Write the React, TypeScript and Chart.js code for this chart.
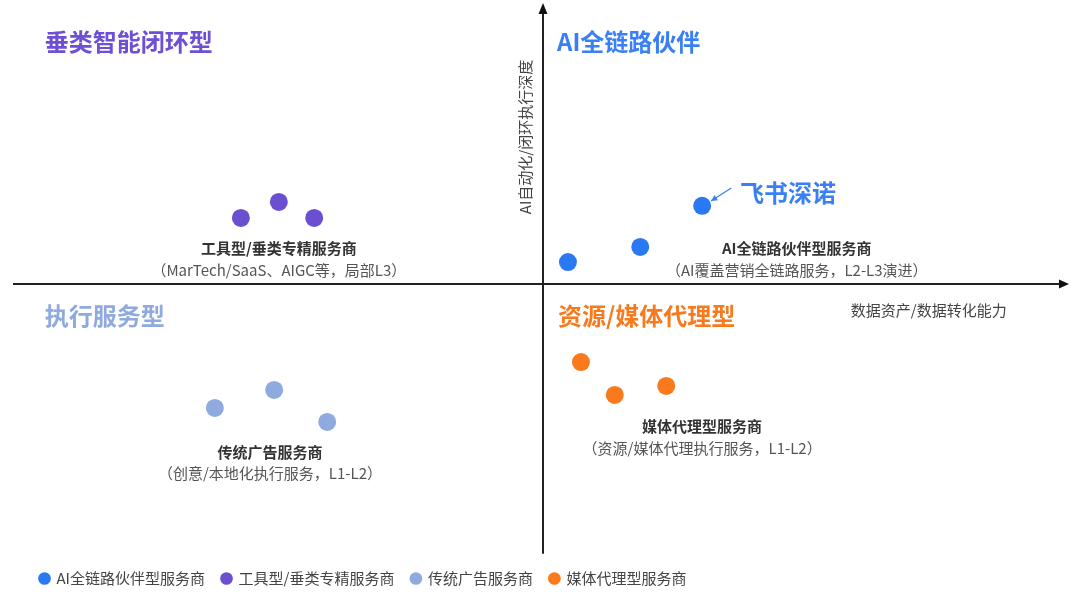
import React, { useEffect, useRef } from "react";
import { Chart, registerables } from "chart.js";

Chart.register(...registerables);

const FONT = '"Noto Sans CJK SC", "Noto Sans", sans-serif';

// Series names (legend)
const seriesNames = ["AI全链路伙伴型服务商", "工具型/垂类专精服务商", "传统广告服务商", "媒体代理型服务商"];

// Series values (x = 数据资产/数据转化能力, y = AI自动化/闭环执行深度)
const aiPartnerX = [4.8, 18.7, 30.6];
const aiPartnerY = [7.8, 13.2, 27.8];
const toolX = [-58.1, -50.8, -44.0];
const toolY = [23.5, 29.2, 23.5];
const traditionalX = [-63.1, -51.7, -41.5];
const traditionalY = [-44.1, -37.7, -49.1];
const mediaX = [7.3, 13.8, 23.7];
const mediaY = [-27.8, -39.5, -36.3];

const seriesColors = ["#2b78f3", "#6a4fd0", "#8eaadf", "#f97a1c"];

// Axis titles
const xAxisTitle = "数据资产/数据转化能力";
const yAxisTitle = "AI自动化/闭环执行深度";

// Quadrant titles
const quadrantTitles = ["垂类智能闭环型", "AI全链路伙伴", "执行服务型", "资源/媒体代理型"];
const quadrantTitleColors = ["#6d50d4", "#3a80f4", "#8eaadf", "#f97a1c"];

// Group labels
const groupNames = ["AI全链路伙伴型服务商", "工具型/垂类专精服务商", "传统广告服务商", "媒体代理型服务商"];
const groupNotes = [
  "（AI覆盖营销全链路服务，L2-L3演进）",
  "（MarTech/SaaS、AIGC等，局部L3）",
  "（创意/本地化执行服务，L1-L2）",
  "（资源/媒体代理执行服务，L1-L2）",
];
const highlightName = "飞书深诺";

function zip(xs: number[], ys: number[]) {
  return xs.map((x, i) => ({ x, y: ys[i] }));
}

const quadrantPlugin = {
  id: "quadrantDecor",
  beforeDatasetsDraw(chart: any) {
    const { ctx, chartArea, scales } = chart;
    const xs = scales.x;
    const ys = scales.y;
    const x0 = xs.getPixelForValue(0);
    const y0 = ys.getPixelForValue(0);
    ctx.save();
    ctx.strokeStyle = "#222";
    ctx.fillStyle = "#111";
    ctx.lineWidth = 2;
    // horizontal axis
    const hStart = chartArea.left - 10;
    const hTip = chartArea.right + 6;
    ctx.beginPath();
    ctx.moveTo(hStart, y0);
    ctx.lineTo(hTip - 8, y0);
    ctx.stroke();
    ctx.beginPath();
    ctx.moveTo(hTip, y0);
    ctx.lineTo(hTip - 10, y0 - 4.5);
    ctx.lineTo(hTip - 10, y0 + 4.5);
    ctx.closePath();
    ctx.fill();
    // vertical axis
    const vTip = ys.getPixelForValue(100);
    const vEnd = ys.getPixelForValue(-96);
    ctx.beginPath();
    ctx.moveTo(x0, vEnd);
    ctx.lineTo(x0, vTip + 8);
    ctx.stroke();
    ctx.beginPath();
    ctx.moveTo(x0, vTip);
    ctx.lineTo(x0 - 4.5, vTip + 11);
    ctx.lineTo(x0 + 4.5, vTip + 11);
    ctx.closePath();
    ctx.fill();
    ctx.restore();
  },
  afterDatasetsDraw(chart: any) {
    const { ctx, scales } = chart;
    const px = (v: number) => scales.x.getPixelForValue(v);
    const py = (v: number) => scales.y.getPixelForValue(v);
    ctx.save();
    ctx.textBaseline = "middle";

    // quadrant titles
    ctx.font = `bold 24px ${FONT}`;
    ctx.textAlign = "left";
    const titlePos = [
      [-95.8, 86.3],
      [2.7, 86.3],
      [-95.8, -11.4],
      [2.9, -11.4],
    ];
    quadrantTitles.forEach((t, i) => {
      ctx.fillStyle = quadrantTitleColors[i];
      ctx.fillText(t, px(titlePos[i][0]), py(titlePos[i][1]));
    });

    // group labels
    const groupPos = [
      [48.8, 12.8, 5.0],
      [-50.8, 12.8, 5.0],
      [-52.5, -59.8, -67.3],
      [30.6, -50.5, -58.4],
    ];
    ctx.textAlign = "center";
    groupNames.forEach((n, i) => {
      ctx.font = `bold 15px ${FONT}`;
      ctx.fillStyle = "#333";
      ctx.fillText(n, px(groupPos[i][0]), py(groupPos[i][1]));
      ctx.font = `15px ${FONT}`;
      ctx.fillStyle = "#555";
      ctx.fillText(groupNotes[i], px(groupPos[i][0]), py(groupPos[i][2]));
    });

    // highlight
    ctx.textAlign = "left";
    ctx.font = `bold 24px ${FONT}`;
    ctx.fillStyle = "#3a80f4";
    ctx.fillText(highlightName, px(37.9), py(32.4));
    // arrow
    const ax1 = px(36.2), ay1 = py(34.2), ax2 = px(32.3), ay2 = py(29.5);
    ctx.strokeStyle = "#3a80f4";
    ctx.fillStyle = "#3a80f4";
    ctx.lineWidth = 1.2;
    ctx.beginPath();
    ctx.moveTo(ax1, ay1);
    ctx.lineTo(ax2, ay2);
    ctx.stroke();
    const ang = Math.atan2(ay2 - ay1, ax2 - ax1);
    ctx.beginPath();
    ctx.moveTo(ax2, ay2);
    ctx.lineTo(ax2 - 7 * Math.cos(ang - 0.45), ay2 - 7 * Math.sin(ang - 0.45));
    ctx.lineTo(ax2 - 7 * Math.cos(ang + 0.45), ay2 - 7 * Math.sin(ang + 0.45));
    ctx.closePath();
    ctx.fill();

    // axis titles
    ctx.font = `15px ${FONT}`;
    ctx.fillStyle = "#444";
    ctx.textAlign = "left";
    ctx.fillText(xAxisTitle, px(59.2), py(-9.3));
    ctx.save();
    ctx.translate(px(-3.5), py(52.3));
    ctx.rotate(-Math.PI / 2);
    ctx.textAlign = "center";
    ctx.fillText(yAxisTitle, 0, 0);
    ctx.restore();

    ctx.restore();
  },
};

export default function App() {
  const ref = useRef<HTMLCanvasElement | null>(null);

  useEffect(() => {
    if (!ref.current) return;
    const chart = new Chart(ref.current, {
      type: "scatter",
      data: {
        datasets: [
          { label: seriesNames[0], data: zip(aiPartnerX, aiPartnerY), backgroundColor: seriesColors[0] },
          { label: seriesNames[1], data: zip(toolX, toolY), backgroundColor: seriesColors[1] },
          { label: seriesNames[2], data: zip(traditionalX, traditionalY), backgroundColor: seriesColors[2] },
          { label: seriesNames[3], data: zip(mediaX, mediaY), backgroundColor: seriesColors[3] },
        ].map((d) => ({ ...d, borderWidth: 0, pointRadius: 9, pointHoverRadius: 9, borderColor: d.backgroundColor })),
      },
      options: {
        responsive: false,
        animation: false,
        layout: { autoPadding: false, padding: { left: 23, right: 17, top: 3, bottom: 0 } },
        scales: {
          x: { type: "linear", min: -100, max: 100, display: false },
          y: { type: "linear", min: -96.1, max: 100, display: false },
        },
        plugins: {
          tooltip: { enabled: false },
          legend: {
            position: "bottom",
            align: "start",
            labels: {
              usePointStyle: true,
              pointStyle: "circle",
              boxWidth: 9,
              boxHeight: 9,
              padding: 17,
              color: "#444",
              font: { family: FONT, size: 15 },
            },
          },
        },
      },
      plugins: [quadrantPlugin],
    });
    return () => chart.destroy();
  }, []);

  return (
    <div style={{ position: "fixed", left: 0, top: 0, width: 1080, height: 596, background: "#fff" }}>
      <canvas ref={ref} width={1080} height={596} style={{ width: 1080, height: 596, display: "block" }} />
    </div>
  );
}
